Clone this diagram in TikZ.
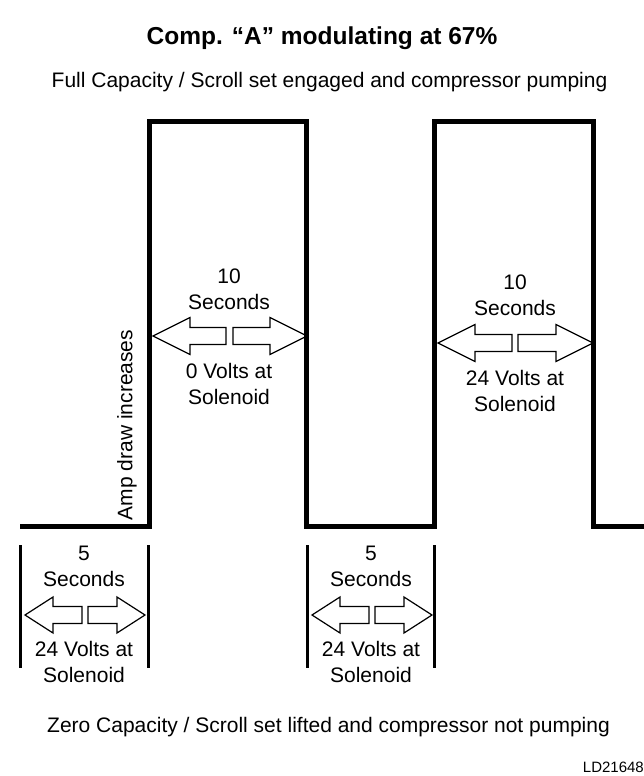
\documentclass[tikz,border=0pt]{standalone}
\usepackage{fontspec}
\setmainfont{Liberation Sans}
\usetikzlibrary{positioning}

% hollow half of a double arrow: tail x, tip x, y, signed head length, head half width
\newcommand{\halfarrow}[5]{%
  \draw[line width=1.2pt,line join=miter]
    (#1,#3-8.5) -- ({#2-(#4)},#3-8.5) -- ({#2-(#4)},#3-#5) -- (#2,#3)
    -- ({#2-(#4)},#3+#5) -- ({#2-(#4)},#3+8.5) -- (#1,#3+8.5) -- cycle;}

\tikzset{
  label/.style={font=\fontsize{21}{25.5}\selectfont,align=center,inner sep=0pt,anchor=base},
  wave/.style={line width=5pt,line join=miter},
  span/.style={line width=3pt}
}

\begin{document}
\begin{tikzpicture}[x=1pt,y=-1pt]
    \useasboundingbox (0,0) rectangle (644,776);
    % square wave
    \draw[wave] (20,526) -- (149,526) -- (149,121) -- (306,121) -- (306,526)
        -- (434,526) -- (434,121) -- (593,121) -- (593,526) -- (646,526);
    % bars marking the off periods
    \draw[span] (20,545) -- (20,668);
    \draw[span] (148,545) -- (148,668);
    \draw[span] (307,545) -- (307,668);
    \draw[span] (434,545) -- (434,668);
    % headings
    \node[anchor=base,inner sep=0pt] (title) at (322,45)
        {\fontsize{24.5}{28}\selectfont\bfseries Comp. “A” modulating at 67\%};
    \node[label] (full) at (329.5,87) {Full Capacity / Scroll set engaged and compressor pumping};
    \node[label] (zero) at (328.5,732) {Zero Capacity / Scroll set lifted and compressor not pumping};
    \node[anchor=base east,inner sep=0pt,font=\fontsize{15}{18}\selectfont] (code) at (644,772) {LD21648};
    \node[label,anchor=center,rotate=90] (amp) at (127,425) {Amp draw increases};
    % first on period
    \node[label] (tenA) at (229,309) {10\\Seconds};
    \halfarrow{226}{153}{336}{-37}{18.5}
    \halfarrow{233}{307}{336}{37}{18.5}
    \node[label] (voltA) at (229,404) {0 Volts at\\Solenoid};
    % second on period
    \node[label] (tenB) at (515,315) {10\\Seconds};
    \halfarrow{512}{438}{343}{-37}{18.5}
    \halfarrow{518}{593}{343}{37}{18.5}
    \node[label] (voltB) at (515,411) {24 Volts at\\Solenoid};
    % off periods
    \foreach \x/\n in {84/C,371/D}{
        \node[label] (five\n) at (\x,586) {5\\Seconds};
        \halfarrow{\x-2}{\x-59}{615}{-28}{18}
        \halfarrow{\x+4}{\x+61}{615}{28}{18}
        \node[label] (volt\n) at (\x,682) {24 Volts at\\Solenoid};
    }
\end{tikzpicture}
\end{document}
